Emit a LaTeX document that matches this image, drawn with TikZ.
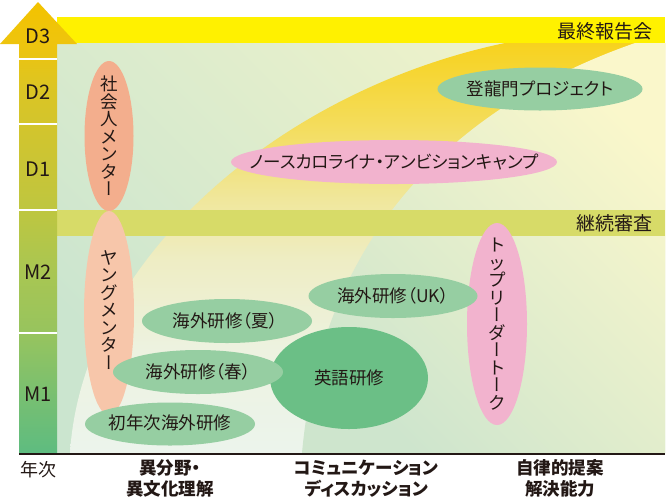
\documentclass[tikz,border=0pt]{standalone}
\usepackage{fontspec}
\setmainfont{Noto Sans CJK JP}
\newfontfamily\jpvert{Noto Sans CJK JP}[RawFeature=+vert]
\newfontfamily\jppalt{Noto Sans CJK JP}[RawFeature=+palt]
\usetikzlibrary{shapes.geometric}
\definecolor{ink}{HTML}{231815}
\definecolor{topyellow}{HTML}{FFF100}
\definecolor{midband}{HTML}{D7DB68}
\definecolor{salmonA}{HTML}{F3AE8D}
\definecolor{salmonB}{HTML}{F7C6AA}
\definecolor{pinkE}{HTML}{F2B3CE}
\definecolor{greenM}{HTML}{96CEA2}
\definecolor{greenD}{HTML}{6BBF86}
\definecolor{panA}{HTML}{CBE5CF}
\definecolor{panB}{HTML}{F0F3CA}
\definecolor{inA}{HTML}{CEE5CD}
\definecolor{inB}{HTML}{FAF7CB}
% axis colours
\definecolor{axA}{HTML}{5EBC80}
\definecolor{axB}{HTML}{76BF72}
\definecolor{axC}{HTML}{97C45E}
\definecolor{axD}{HTML}{A9C652}
\definecolor{axE}{HTML}{BEC640}
\definecolor{axF}{HTML}{C9C536}
\definecolor{axG}{HTML}{DAC525}
\definecolor{axH}{HTML}{EEC40E}
\definecolor{axI}{HTML}{F3C300}
% band colours
\definecolor{bsA}{HTML}{ECF4EC}
\definecolor{bsB}{HTML}{EDF2E0}
\definecolor{bsC}{HTML}{EEEDC4}
\definecolor{bsD}{HTML}{F0E79C}
\definecolor{bsE}{HTML}{F4DC58}
\definecolor{bsF}{HTML}{F7D21E}
\pgfdeclareverticalshading{axisshade}{100bp}{color(0bp)=(axA); color(25bp)=(axA); color(30.9bp)=(axB); color(38.3bp)=(axC); color(45.3bp)=(axD); color(51.9bp)=(axE); color(56.6bp)=(axF); color(65bp)=(axG); color(70.3bp)=(axH); color(75bp)=(axI); color(100bp)=(axI)}
\pgfdeclareverticalshading{bandshade}{100bp}{color(0bp)=(bsA); color(25bp)=(bsA); color(37.6bp)=(bsB); color(48.5bp)=(bsC); color(55.9bp)=(bsD); color(65.6bp)=(bsE); color(75bp)=(bsF); color(100bp)=(bsF)}
\newcommand\vb{{\jpvert ー}}
\tikzset{
  bub/.style={ellipse, inner sep=0pt, draw=none},
  vt/.style={align=center, text=ink, inner sep=0pt, font=\fontsize{17.5}{17.5}\selectfont},
  ht/.style={text=ink, inner sep=0pt, font=\jppalt\fontsize{17.5}{21}\selectfont},
  bandlbl/.style={text=ink, inner sep=0pt, anchor=east, font=\fontsize{19}{21}\selectfont},
  axlbl/.style={text=ink, inner sep=0pt, font=\fontsize{20}{22}\selectfont},
  bl/.style={text=ink, inner sep=0pt, align=center, font=\jppalt\bfseries\fontsize{17.5}{21}\selectfont},
  sep/.style={white, line width=2pt}
}
\begin{document}
\begin{tikzpicture}[x=1pt,y=-1pt]
\useasboundingbox (0,0) rectangle (668,499);
% panel background
\shade[bottom color=panA, top color=panB, shading angle=-45] (57,43) rectangle (665,453);
\shade[shading=bandshade] (70,453) .. controls (82,260) and (280,90) .. (505,43) -- (665,43) -- (665,453) -- cycle;
\shade[bottom color=inA, top color=inB, shading angle=-45] (302,453) .. controls (318,275) and (415,120) .. (635,43) -- (665,43) -- (665,453) -- cycle;
% bands
\fill[topyellow] (57,17) rectangle (665,43);
\fill[midband] (57,210) rectangle (665,236);
\node[bandlbl] (lFinal) at (653,31) {最終報告会};
\node[bandlbl] (lCont) at (653,223) {継続審査};
% axis arrow
\shade[shading=axisshade] (19,453) -- (19,44) -- (0,44) -- (38,2) -- (77,44) -- (57,44) -- (57,453) -- cycle;
\draw[sep] (19,59) -- (57,59);
\draw[sep] (19,124) -- (57,124);
\draw[sep] (19,210) -- (57,210);
\draw[sep] (19,333) -- (57,333);
\node[axlbl] (aD3) at (38,36) {D3};
\node[axlbl] (aD2) at (38,92) {D2};
\node[axlbl] (aD1) at (38,169) {D1};
\node[axlbl] (aM2) at (38,272) {M2};
\node[axlbl] (aM1) at (38,394) {M1};
% ellipses
\node[bub, fill=salmonA, minimum width=49pt, minimum height=150pt] (eShakai) at (109,136) {};
\node[vt] (tShakai) at (eShakai.center) {社\\会\\人\\メ\\ン\\タ\\\vb};
\node[bub, fill=salmonB, minimum width=50pt, minimum height=204pt] (eYoung) at (109,313) {};
\node[vt] (tYoung) at ([yshift=3pt]eYoung.center) {ヤ\\ン\\グ\\メ\\ン\\タ\\\vb};
\node[bub, fill=pinkE, minimum width=326pt, minimum height=44pt] (eNC) at (394,162) {};
\node[ht] (tNC) at (eNC.center) {ノースカロライナ・アンビションキャンプ};
\node[bub, fill=greenM, minimum width=205pt, minimum height=43pt] (eTR) at (540,89) {};
\node[ht] (tTR) at (eTR.center) {登龍門プロジェクト};
\node[bub, fill=pinkE, minimum width=60pt, minimum height=202pt] (eTop) at (497,324) {};
\node[vt] (tTop) at (eTop.center) {ト\\ッ\\プ\\リ\\\vb\\ダ\\\vb\\ト\\\vb\\ク};
\node[bub, fill=greenD, minimum width=158pt, minimum height=102pt] (eEng) at (349,378) {};
\node[ht] (tEng) at (eEng.center) {英語研修};
\node[bub, fill=greenM, minimum width=170pt, minimum height=44pt] (eSum) at (227,321) {};
\node[ht] (tSum) at ([xshift=-2pt]eSum.center) {海外研修（夏）};
\node[bub, fill=greenM, minimum width=170pt, minimum height=44pt] (eSpr) at (198,372) {};
\node[ht] (tSpr) at (eSpr.center) {海外研修（春）};
\node[bub, fill=greenM, minimum width=170pt, minimum height=43pt] (eFirst) at (170,424) {};
\node[ht] (tFirst) at ([yshift=1pt]eFirst.center) {初年次海外研修};
\node[bub, fill=greenM, minimum width=169pt, minimum height=44pt] (eUK) at (393,296) {};
\node[ht] (tUK) at (eUK.center) {海外研修（UK）};
% baseline
\draw[ink, line width=2.2pt] (19,454) -- (665,454);
% bottom labels
\node[text=ink, inner sep=0pt, font=\fontsize{18}{21}\selectfont] (bYear) at (38,470) {年次};
\node[bl] (bCult) at (170,478.5) {異分野・\\異文化理解};
\node[bl] (bComm) at (366.5,478.5) {コミュニケーション\\ディスカッション};
\node[bl] (bAuto) at (560,478.5) {自律的提案\\解決能力};
\end{tikzpicture}
\end{document}
